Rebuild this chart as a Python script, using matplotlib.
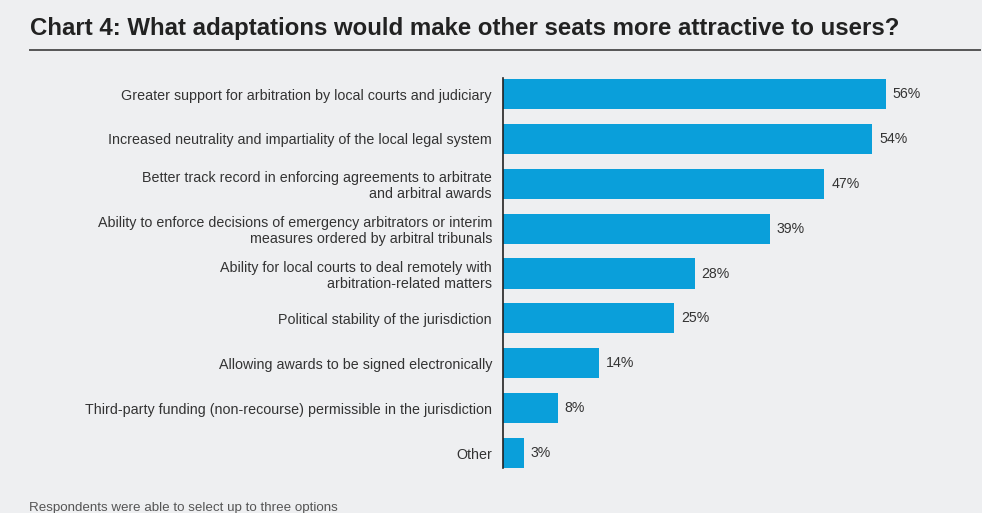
import matplotlib.pyplot as plt
from matplotlib.lines import Line2D

plt.rcParams['font.family'] = ['Liberation Sans', 'DejaVu Sans']

# data
labels = [
    "Greater support for arbitration by local courts and judiciary",
    "Increased neutrality and impartiality of the local legal system",
    "Better track record in enforcing agreements to arbitrate\nand arbitral awards",
    "Ability to enforce decisions of emergency arbitrators or interim\nmeasures ordered by arbitral tribunals",
    "Ability for local courts to deal remotely with\narbitration-related matters",
    "Political stability of the jurisdiction",
    "Allowing awards to be signed electronically",
    "Third-party funding (non-recourse) permissible in the jurisdiction",
    "Other",
]
values = [56, 54, 47, 39, 28, 25, 14, 8, 3]

title = "Chart 4: What adaptations would make other seats more attractive to users?"
note = "Respondents were able to select up to three options"

bg = '#eeeff1'
bar_color = '#0a9fda'
text_color = '#333333'

W, H = 982, 513
fig = plt.figure(figsize=(W / 100, H / 100), dpi=100, facecolor=bg)

# axes placed in pixel terms: left edge at x=503, top 78, bottom 468
left, right, top, bottom = 503, 982, 78, 468
ax = fig.add_axes([left / W, 1 - bottom / H, (right - left) / W, (bottom - top) / H])
ax.set_facecolor(bg)

ypos = list(range(len(values)))
ax.barh(ypos, values, height=0.67, color=bar_color)
ax.set_xlim(0, (right - left) / 6.84)
ax.set_ylim(len(values) - 1 + 0.334, -0.357)

for y, v in zip(ypos, values):
    ax.text(v + 1.0, y, f"{v}%", va='center', ha='left', fontsize=10.2, color=text_color)

ax.set_yticks(ypos)
ax.set_yticklabels(labels, fontsize=10.3, color=text_color, linespacing=1.15)
ax.tick_params(axis='y', length=0, pad=8)
ax.set_xticks([])
for s in ['top', 'right', 'bottom']:
    ax.spines[s].set_visible(False)
ax.spines['left'].set_color('#222222')
ax.spines['left'].set_linewidth(1.2)

fig.text(30 / W, 1 - 29 / H, title, fontsize=17.3, fontweight='bold', color='#222222',
         ha='left', va='center')
fig.add_artist(Line2D([30 / W, 980 / W], [1 - 50 / H, 1 - 50 / H],
                      color='#555555', linewidth=1.4, transform=fig.transFigure))
fig.text(29 / W, 1 - 508 / H, note, fontsize=9.6, color='#555555', ha='left', va='center')

fig.savefig('out.png', dpi=100, facecolor=bg)
